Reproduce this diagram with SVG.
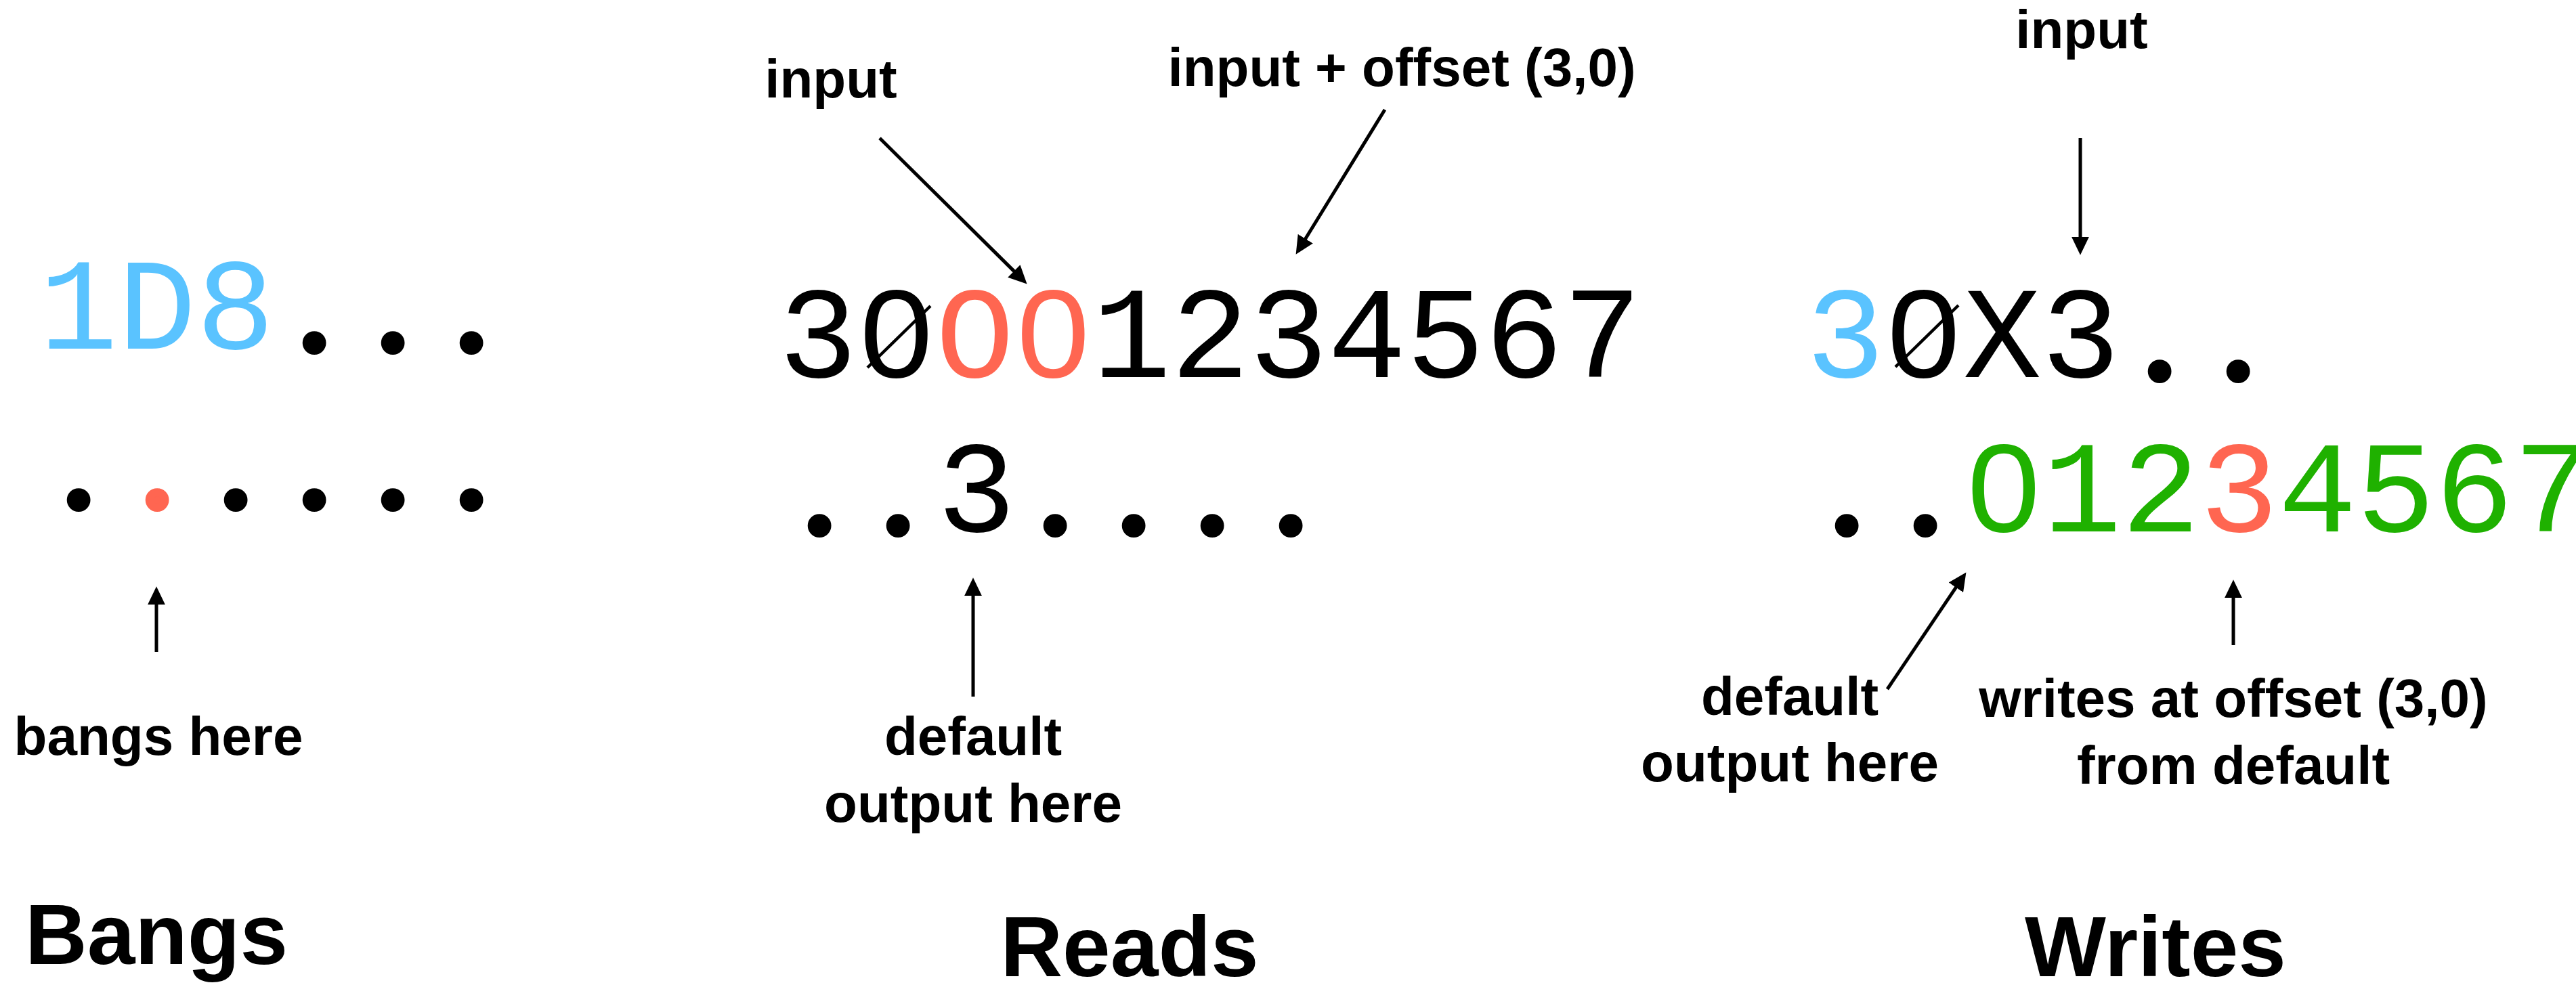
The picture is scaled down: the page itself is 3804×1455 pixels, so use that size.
<svg xmlns="http://www.w3.org/2000/svg" width="3804" height="1455" viewBox="0 0 3804 1455">
  <defs>
    <style>
      .code { font-family: "Liberation Mono", "Courier New", monospace; font-size: 193px; fill: #000; }
      .dot  { font-family: "Liberation Serif", "Times New Roman", serif; stroke: #000; stroke-width: 12px; stroke-linejoin: round; }
      .lbl  { font-family: "Liberation Sans", Arial, Helvetica, sans-serif; font-weight: bold; font-size: 80px; fill: #000; text-anchor: middle; }
      .ttl  { font-family: "Liberation Sans", Arial, Helvetica, sans-serif; font-weight: bold; font-size: 127px; fill: #000; text-anchor: middle; }
      .blue  { fill: #5AC3FF; }
      .red   { fill: #FF6651; }
      .dot.red { stroke: #FF6651; }
      .green { fill: #1FB100; }
      .plain-zero { fill: #fff; }
      .slash { stroke: #000; stroke-width: 4.5; fill: none; }
      .arrow { stroke: #000; stroke-width: 5; fill: none; marker-end: url(#head); }
    </style>
    <marker id="head" markerUnits="userSpaceOnUse" markerWidth="27" markerHeight="26" refX="6" refY="12.5" orient="auto" viewBox="0 0 26 25">
      <path d="M0,0 L26,12.5 L0,25 Z" fill="#000"/>
    </marker>
  </defs>
  <rect width="3804" height="1455" fill="#fff"/>

  <!-- Bangs: 116px character cells starting at x=58 -->
  <g id="bangs-grid">
    <text class="code" y="515"><tspan x="58" class="blue">1D8</tspan><tspan class="dot" x="440">.</tspan><tspan class="dot" x="556">.</tspan><tspan class="dot" x="672">.</tspan></text>
    <text class="code" y="747"><tspan class="dot" x="92">.</tspan><tspan class="dot red" x="208">.</tspan><tspan class="dot" x="324">.</tspan><tspan class="dot" x="440">.</tspan><tspan class="dot" x="556">.</tspan><tspan class="dot" x="672">.</tspan></text>
  </g>
  <g id="bangs-label"><text class="lbl" x="234" y="1115">bangs here</text></g>
  <g id="bangs-title"><text class="ttl" x="231" y="1424">Bangs</text></g>

  <!-- Reads: cells start at x=1150 -->
  <g id="reads-input-label"><text class="lbl" x="1227" y="144">input</text></g>
  <g id="reads-offset-label"><text class="lbl" x="2070" y="127">input + offset (3,0)</text></g>
  <g id="reads-grid">
    <text class="code" x="1150" y="557">30<tspan class="red">O0</tspan>1234567</text>
    <!-- plain zeros: hide the centre mark of the mono zero -->
    <ellipse class="plain-zero" cx="1324" cy="494" rx="20" ry="30"/>
    <ellipse class="plain-zero" cx="1556" cy="494" rx="20" ry="30"/>
    <line class="slash" x1="1281" y1="543" x2="1374" y2="452"/>
    <text class="code" y="785"><tspan class="dot" x="1186">.</tspan><tspan class="dot" x="1302">.</tspan><tspan x="1384">3</tspan><tspan class="dot" x="1534">.</tspan><tspan class="dot" x="1650">.</tspan><tspan class="dot" x="1766">.</tspan><tspan class="dot" x="1882">.</tspan></text>
  </g>
  <g id="reads-default-label">
    <text class="lbl" x="1437" y="1115">default</text>
    <text class="lbl" x="1437" y="1214">output here</text>
  </g>
  <g id="reads-title"><text class="ttl" x="1668" y="1442">Reads</text></g>

  <!-- Writes: cells start at x=2667 -->
  <g id="writes-input-label"><text class="lbl" x="3074" y="71">input</text></g>
  <g id="writes-grid">
    <text class="code" y="557"><tspan x="2667" class="blue">3</tspan>0X3<tspan class="dot" x="3165">.</tspan><tspan class="dot" x="3281">.</tspan></text>
    <ellipse class="plain-zero" cx="2841" cy="494" rx="20" ry="30"/>
    <line class="slash" x1="2799" y1="542" x2="2892" y2="451"/>
    <text class="code" y="785"><tspan class="dot" x="2703">.</tspan><tspan class="dot" x="2819">.</tspan><tspan x="2901" class="green">012</tspan><tspan class="red">3</tspan><tspan class="green">4567</tspan></text>
    <ellipse class="plain-zero" cx="2959" cy="722" rx="20" ry="30"/>
  </g>
  <g id="writes-default-label">
    <text class="lbl" x="2643" y="1056">default</text>
    <text class="lbl" x="2643" y="1154">output here</text>
  </g>
  <g id="writes-offset-label">
    <text class="lbl" x="3298" y="1059">writes at offset (3,0)</text>
    <text class="lbl" x="3298" y="1158">from default</text>
  </g>
  <g id="writes-title"><text class="ttl" x="3183" y="1442">Writes</text></g>

  <!-- Connectors -->
  <g id="connectors">
    <line class="arrow" x1="231" y1="963" x2="231" y2="887"/>
    <line class="arrow" x1="1299" y1="204" x2="1501.8" y2="404.9"/>
    <line class="arrow" x1="2045" y1="162" x2="1924.5" y2="358"/>
    <line class="arrow" x1="1437" y1="1029" x2="1437" y2="874"/>
    <line class="arrow" x1="3072" y1="204" x2="3072" y2="356"/>
    <line class="arrow" x1="2787" y1="1018" x2="2891.8" y2="862.6"/>
    <line class="arrow" x1="3298" y1="953" x2="3298" y2="877"/>
  </g>
</svg>
